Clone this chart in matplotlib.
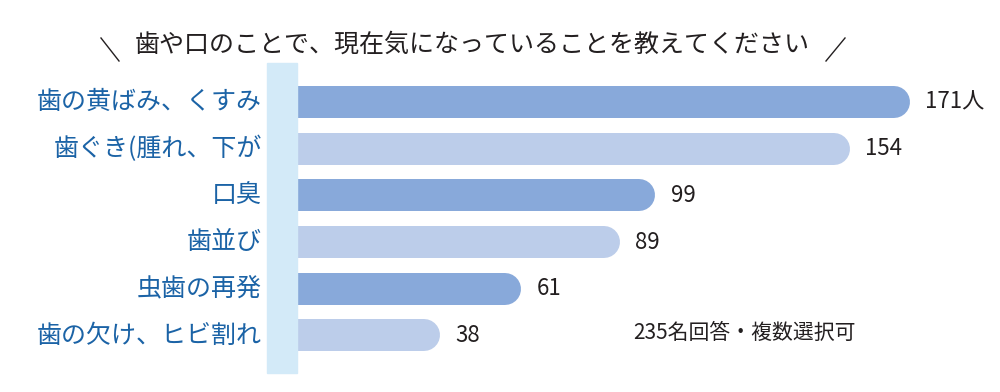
import matplotlib
matplotlib.use("Agg")
import matplotlib.pyplot as plt
from matplotlib.patches import Rectangle
from matplotlib.lines import Line2D

plt.rcParams['font.family'] = ['Noto Sans CJK JP', 'DejaVu Sans']

categories = ["歯の黄ばみ、くすみ", "歯ぐき(腫れ、下が", "口臭", "歯並び", "虫歯の再発", "歯の欠け、ヒビ割れ"]
values = [171, 154, 99, 89, 61, 38]
value_labels = ["171人", "154", "99", "89", "61", "38"]
title = "歯や口のことで、現在気になっていることを教えてください"
note = "235名回答・複数選択可"

dark = "#88a9da"
light = "#bccdea"
label_blue = "#1b63a6"
text_dark = "#231f20"

W, H, DPI = 1000, 392, 100
fig = plt.figure(figsize=(W / DPI, H / DPI), dpi=DPI)

# axes: value 0 sits at x=306px, 3.53 px per unit
x0_px, px_per_unit = 306, 3.53
ax = fig.add_axes([x0_px / W, 0, 1 - x0_px / W, 1])
ax.set_xlim(0, (W - x0_px) / px_per_unit)
first_px, step_px = 102, 46.7
ax.set_ylim((H - first_px) / step_px, -first_px / step_px)
ax.axis("off")

bar_h_px = 32
cap = bar_h_px / 2 / px_per_unit
start = -2.5  # left end hidden behind the band
for i, (v, lab) in enumerate(zip(values, value_labels)):
    col = dark if i % 2 == 0 else light
    ax.add_line(Line2D([start, v - cap], [i, i], lw=bar_h_px * 72 / DPI,
                       color=col, solid_capstyle="round", clip_on=False, zorder=2))
    ax.annotate(lab, (v, i), xytext=(11, 0), textcoords="offset points",
                va="center", ha="left", fontsize=16, color=text_dark)
    ax.annotate(categories[i], (0, i), xytext=(-44 * 72 / DPI, 0), textcoords="offset points",
                va="center", ha="right", fontsize=18, color=label_blue,
                annotation_clip=False)

# light blue band behind the category axis
fig.patches.append(Rectangle((267 / W, 1 - 373 / H), 30 / W, 310 / H,
                             transform=fig.transFigure, color="#d3eaf8", zorder=5))

# title with slashes
fig.text(472 / W, 1 - 45 / H, title, ha="center", va="center", fontsize=18, color=text_dark)
fig.lines.append(Line2D([101 / W, 119 / W], [1 - 38 / H, 1 - 61 / H],
                        transform=fig.transFigure, color=text_dark, lw=1))
fig.lines.append(Line2D([826 / W, 845 / W], [1 - 61 / H, 1 - 38 / H],
                        transform=fig.transFigure, color=text_dark, lw=1))

fig.text(633 / W, 1 - 333 / H, note, ha="left", va="center", fontsize=15, color=text_dark)

fig.savefig("out.png", dpi=DPI)
